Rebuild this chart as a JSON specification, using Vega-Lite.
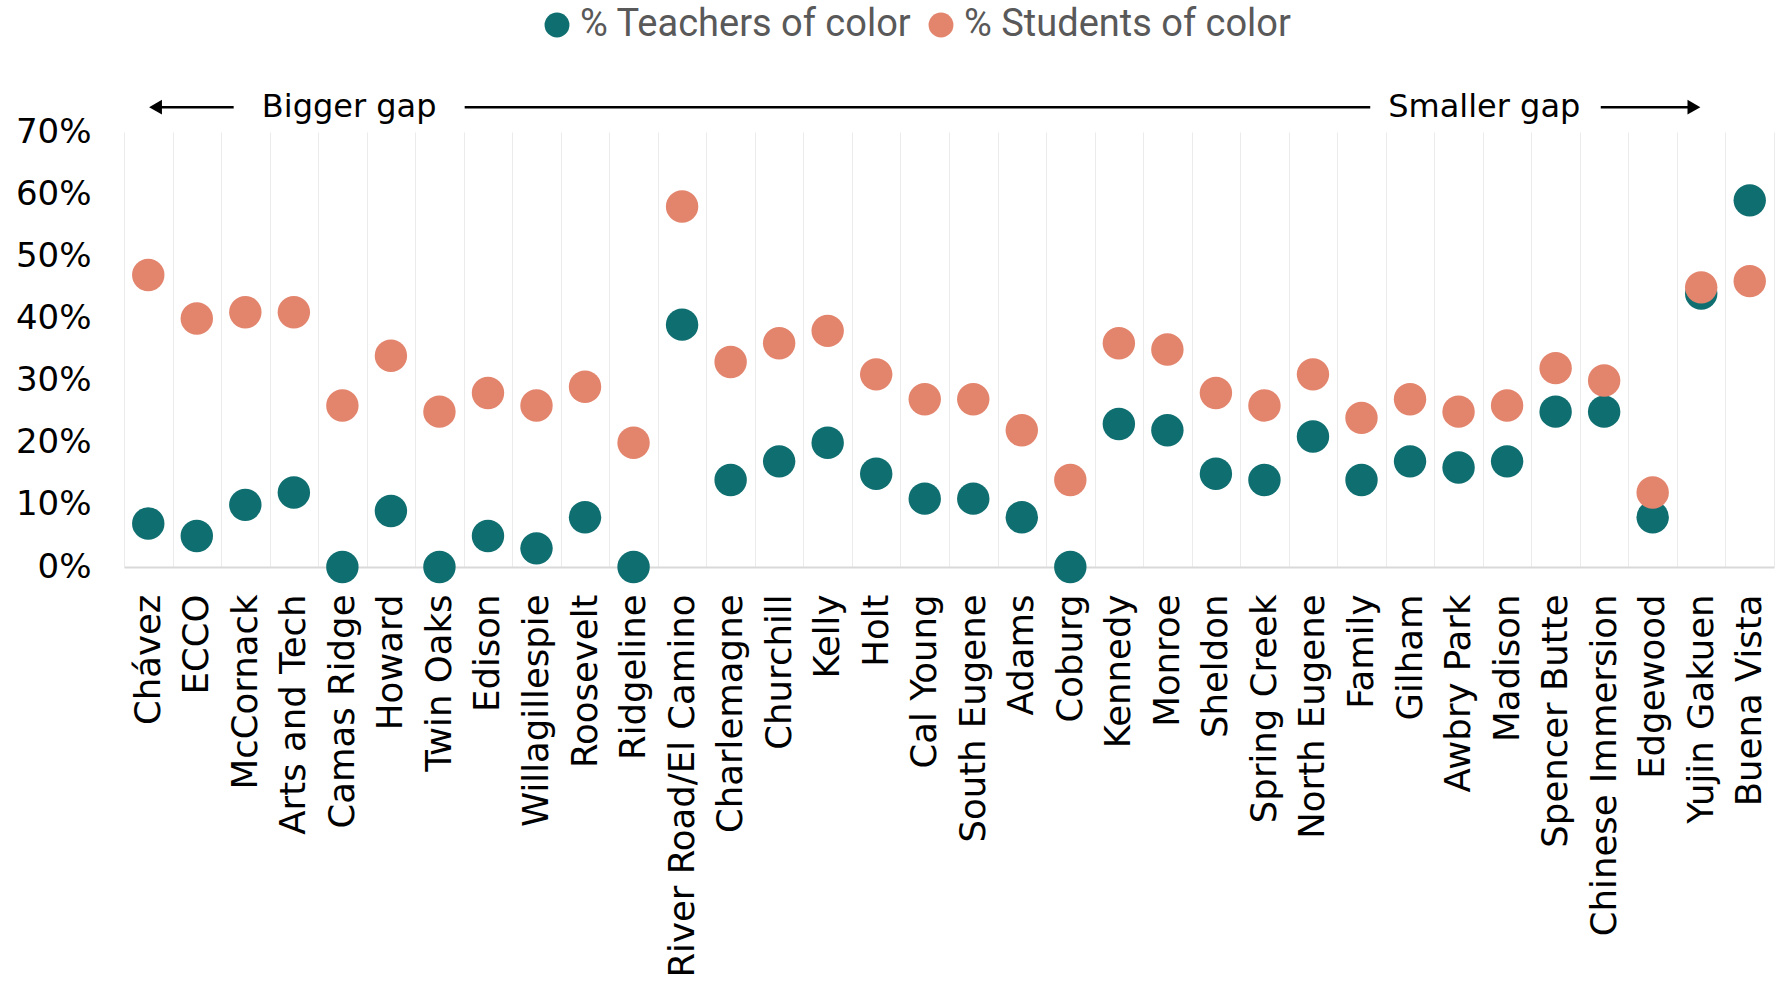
{
  "$schema": "https://vega.github.io/schema/vega-lite/v6.json",
  "width": 1650,
  "height": 435,
  "autosize": {"type": "none"},
  "padding": {"left": 124, "top": 132, "right": 16, "bottom": 420},
  "background": "white",
  "config": {"view": {"stroke": null}, "font": "DejaVu Sans"},
  "datasets": {
    "schools": [
      {"school": "Chávez", "group": "% Teachers of color", "value": 0.07},
      {"school": "ECCO", "group": "% Teachers of color", "value": 0.05},
      {"school": "McCornack", "group": "% Teachers of color", "value": 0.10},
      {"school": "Arts and Tech", "group": "% Teachers of color", "value": 0.12},
      {"school": "Camas Ridge", "group": "% Teachers of color", "value": 0.0},
      {"school": "Howard", "group": "% Teachers of color", "value": 0.09},
      {"school": "Twin Oaks", "group": "% Teachers of color", "value": 0.0},
      {"school": "Edison", "group": "% Teachers of color", "value": 0.05},
      {"school": "Willagillespie", "group": "% Teachers of color", "value": 0.03},
      {"school": "Roosevelt", "group": "% Teachers of color", "value": 0.08},
      {"school": "Ridgeline", "group": "% Teachers of color", "value": 0.0},
      {"school": "River Road/El Camino", "group": "% Teachers of color", "value": 0.39},
      {"school": "Charlemagne", "group": "% Teachers of color", "value": 0.14},
      {"school": "Churchill", "group": "% Teachers of color", "value": 0.17},
      {"school": "Kelly", "group": "% Teachers of color", "value": 0.20},
      {"school": "Holt", "group": "% Teachers of color", "value": 0.15},
      {"school": "Cal Young", "group": "% Teachers of color", "value": 0.11},
      {"school": "South Eugene", "group": "% Teachers of color", "value": 0.11},
      {"school": "Adams", "group": "% Teachers of color", "value": 0.08},
      {"school": "Coburg", "group": "% Teachers of color", "value": 0.0},
      {"school": "Kennedy", "group": "% Teachers of color", "value": 0.23},
      {"school": "Monroe", "group": "% Teachers of color", "value": 0.22},
      {"school": "Sheldon", "group": "% Teachers of color", "value": 0.15},
      {"school": "Spring Creek", "group": "% Teachers of color", "value": 0.14},
      {"school": "North Eugene", "group": "% Teachers of color", "value": 0.21},
      {"school": "Family", "group": "% Teachers of color", "value": 0.14},
      {"school": "Gilham", "group": "% Teachers of color", "value": 0.17},
      {"school": "Awbry Park", "group": "% Teachers of color", "value": 0.16},
      {"school": "Madison", "group": "% Teachers of color", "value": 0.17},
      {"school": "Spencer Butte", "group": "% Teachers of color", "value": 0.25},
      {"school": "Chinese Immersion", "group": "% Teachers of color", "value": 0.25},
      {"school": "Edgewood", "group": "% Teachers of color", "value": 0.08},
      {"school": "Yujin Gakuen", "group": "% Teachers of color", "value": 0.44},
      {"school": "Buena Vista", "group": "% Teachers of color", "value": 0.59},
      {"school": "Chávez", "group": "% Students of color", "value": 0.47},
      {"school": "ECCO", "group": "% Students of color", "value": 0.40},
      {"school": "McCornack", "group": "% Students of color", "value": 0.41},
      {"school": "Arts and Tech", "group": "% Students of color", "value": 0.41},
      {"school": "Camas Ridge", "group": "% Students of color", "value": 0.26},
      {"school": "Howard", "group": "% Students of color", "value": 0.34},
      {"school": "Twin Oaks", "group": "% Students of color", "value": 0.25},
      {"school": "Edison", "group": "% Students of color", "value": 0.28},
      {"school": "Willagillespie", "group": "% Students of color", "value": 0.26},
      {"school": "Roosevelt", "group": "% Students of color", "value": 0.29},
      {"school": "Ridgeline", "group": "% Students of color", "value": 0.20},
      {"school": "River Road/El Camino", "group": "% Students of color", "value": 0.58},
      {"school": "Charlemagne", "group": "% Students of color", "value": 0.33},
      {"school": "Churchill", "group": "% Students of color", "value": 0.36},
      {"school": "Kelly", "group": "% Students of color", "value": 0.38},
      {"school": "Holt", "group": "% Students of color", "value": 0.31},
      {"school": "Cal Young", "group": "% Students of color", "value": 0.27},
      {"school": "South Eugene", "group": "% Students of color", "value": 0.27},
      {"school": "Adams", "group": "% Students of color", "value": 0.22},
      {"school": "Coburg", "group": "% Students of color", "value": 0.14},
      {"school": "Kennedy", "group": "% Students of color", "value": 0.36},
      {"school": "Monroe", "group": "% Students of color", "value": 0.35},
      {"school": "Sheldon", "group": "% Students of color", "value": 0.28},
      {"school": "Spring Creek", "group": "% Students of color", "value": 0.26},
      {"school": "North Eugene", "group": "% Students of color", "value": 0.31},
      {"school": "Family", "group": "% Students of color", "value": 0.24},
      {"school": "Gilham", "group": "% Students of color", "value": 0.27},
      {"school": "Awbry Park", "group": "% Students of color", "value": 0.25},
      {"school": "Madison", "group": "% Students of color", "value": 0.26},
      {"school": "Spencer Butte", "group": "% Students of color", "value": 0.32},
      {"school": "Chinese Immersion", "group": "% Students of color", "value": 0.30},
      {"school": "Edgewood", "group": "% Students of color", "value": 0.12},
      {"school": "Yujin Gakuen", "group": "% Students of color", "value": 0.45},
      {"school": "Buena Vista", "group": "% Students of color", "value": 0.46}
    ]
  },
  "layer": [
    {
      "data": {"name": "schools"},
      "mark": {"type": "circle", "size": 1050, "opacity": 1},
      "encoding": {
        "x": {
          "field": "school", "type": "nominal", "sort": null,
          "axis": {
            "title": null, "labelAngle": -90, "labelFontSize": 35.5, "labelColor": "black",
            "labelPadding": 27, "labelLimit": 600, "ticks": false, "grid": false,
            "domain": true, "domainColor": "#D9D9D9", "domainWidth": 2
          }
        },
        "y": {
          "field": "value", "type": "quantitative",
          "scale": {"domain": [0, 0.7], "nice": false},
          "axis": {
            "title": null, "format": ".0%", "values": [0, 0.1, 0.2, 0.3, 0.4, 0.5, 0.6, 0.7],
            "grid": false, "domain": false, "ticks": false,
            "labelFontSize": 34, "labelColor": "black", "labelPadding": 33
          }
        },
        "color": {
          "field": "group", "type": "nominal",
          "scale": {"domain": ["% Teachers of color", "% Students of color"], "range": ["#0F6E70", "#E3846D"]},
          "legend": {
            "orient": "none", "legendX": 414, "legendY": -126, "direction": "horizontal",
            "title": null, "labelFontSize": 38, "labelFont": "Roboto", "labelColor": "#595959",
            "symbolSize": 620, "symbolType": "circle", "symbolOpacity": 1, "labelOffset": 4,
            "columnPadding": 10, "padding": 0, "labelLimit": 600
          }
        }
      }
    },
    {
      "encoding": {},
      "layer": [
        {
          "data": {"values": [{"from": 0.15, "to": 1.76}, {"from": 6.52, "to": 25.18}, {"from": 29.93, "to": 31.85}]},
          "mark": {"type": "rule", "color": "black", "strokeWidth": 2.5},
          "encoding": {
            "x": {
              "field": "from", "type": "quantitative",
              "scale": {"domain": [-0.5, 33.5], "nice": false, "zero": false},
              "axis": {
                "title": null, "labels": false, "ticks": false, "domain": false, "grid": true,
                "gridColor": "#EBEBEB", "gridWidth": 1,
                "values": [-0.5,0,0.5,1,1.5,2,2.5,3,3.5,4,4.5,5,5.5,6,6.5,7,7.5,8,8.5,9,9.5,10,10.5,11,11.5,12,12.5,13,13.5,14,14.5,15,15.5,16,16.5,17,17.5,18,18.5,19,19.5,20,20.5,21,21.5,22,22.5,23,23.5,24,24.5,25,25.5,26,26.5,27,27.5,28,28.5,29,29.5,30,30.5,31,31.5,32,32.5,33,33.5]
              }
            },
            "x2": {"field": "to"},
            "y": {"datum": 0.74, "type": "quantitative", "scale": {"domain": [0, 0.7], "nice": false}}
          }
        },
        {
          "data": {"values": [{"at": 0.15, "side": "left"}, {"at": 31.85, "side": "right"}]},
          "mark": {"type": "point", "filled": true, "color": "black", "size": 220, "opacity": 1},
          "encoding": {
            "x": {"field": "at", "type": "quantitative"},
            "y": {"datum": 0.74, "type": "quantitative"},
            "shape": {"field": "side", "type": "nominal", "scale": {"domain": ["left", "right"], "range": ["triangle-left", "triangle-right"]}, "legend": null}
          }
        },
        {
          "data": {"values": [{"at": 4.14, "label": "Bigger gap"}, {"at": 27.53, "label": "Smaller gap"}]},
          "mark": {"type": "text", "fontSize": 32, "color": "black", "align": "center", "baseline": "middle"},
          "encoding": {
            "x": {"field": "at", "type": "quantitative"},
            "y": {"datum": 0.74, "type": "quantitative"},
            "text": {"field": "label"}
          }
        }
      ]
    }
  ],
  "resolve": {"scale": {"x": "independent"}}
}
